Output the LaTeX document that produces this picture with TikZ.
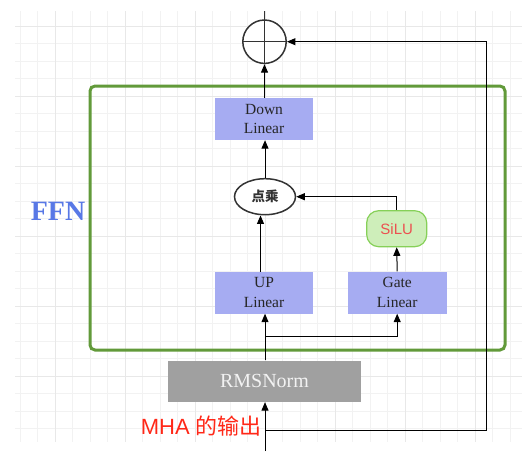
\documentclass[tikz,border=0pt]{standalone}
\usepackage{fontspec}
\setmainfont{Liberation Serif}
\newfontfamily\cjk{Noto Sans CJK SC}
\newfontfamily\arialf{Liberation Sans}
\usetikzlibrary{arrows.meta,calc,shapes.geometric}
\definecolor{lav}{RGB}{166,172,242}
\definecolor{ffngreen}{RGB}{98,154,58}
\definecolor{ffnblue}{RGB}{88,120,230}
\definecolor{silufill}{RGB}{206,238,186}
\definecolor{siluline}{RGB}{134,208,88}
\definecolor{silutext}{RGB}{236,80,80}
\definecolor{rmsgray}{RGB}{160,160,160}
\definecolor{mhared}{RGB}{255,40,24}
\definecolor{darkline}{RGB}{51,51,51}
\tikzset{
  linbox/.style={fill=lav, draw=none, minimum width=98pt, minimum height=42pt, inner sep=0pt, align=center, font=\fontsize{15.5}{19.5}\selectfont, text=black!85},
  arr/.style={draw=black, line width=1pt, -{Triangle[length=8.5pt,width=7pt]}},
  plainline/.style={draw=black, line width=1pt},
  minorgrid/.style={draw=black!5, line width=0.8pt},
  majorgrid/.style={draw=black!9, line width=0.8pt},
}
\begin{document}
\begin{tikzpicture}[x=1pt,y=-1pt]
\useasboundingbox (0,0) rectangle (522,451);
\fill[white] (0,0) rectangle (522,451);
% grid
\foreach \i in {0,...,28} {
  \draw[minorgrid] ({20+17.5*\i},11) -- ({20+17.5*\i},441.7);
}
\foreach \j in {0,...,23} {
  \draw[minorgrid] (15,{26+17.5*\j}) -- (522,{26+17.5*\j});
}
\foreach \i in {0,...,6} {
  \draw[majorgrid] ({55+70*\i},11) -- ({55+70*\i},441.7);
}
\foreach \j in {0,...,5} {
  \draw[majorgrid] (15,{26+70*\j}) -- (522,{26+70*\j});
}
% FFN frame
\draw[ffngreen, line width=3pt, rounded corners=5pt] (90,86) rectangle (505,350);
\node[font=\bfseries\fontsize{28}{30}\selectfont, text=ffnblue] (ffn) at (58,211) {FFN};
% nodes
\node[circle, draw=darkline, line width=1.5pt, fill=white, minimum size=43.4pt, inner sep=0pt] (sum) at (264.5,41.7) {};
\draw[darkline, line width=1.5pt] (sum.north) -- (sum.south) (sum.west) -- (sum.east);
\coordinate (out) at (264.5,11);
\draw[darkline, line width=1.5pt] (sum.north) -- (out);
\node[linbox] (down) at (264,119) {Down\\Linear};
\node[ellipse, draw=darkline, line width=1.5pt, fill=white, minimum width=61pt, minimum height=36pt, inner sep=0pt, font=\cjk\bfseries\fontsize{13.5}{15}\selectfont, text=darkline] (dot) at (265,196.7) {点乘};
\node[rounded corners=12pt, draw=siluline, line width=1.2pt, fill=silufill, minimum width=60pt, minimum height=36pt, inner sep=0pt, font=\arialf\fontsize{15}{16}\selectfont, text=silutext] (silu) at (396.7,228.7) {SiLU};
\node[linbox] (up) at (264,292.5) {UP\\Linear};
\node[linbox, minimum width=99pt] (gate) at (397.2,292.5) {Gate\\Linear};
\node[fill=rmsgray, minimum width=192.4pt, minimum height=41.3pt, inner sep=0pt, font=\fontsize{20}{22}\selectfont, text=white!95!black] (rms) at (264.5,381.3) {RMSNorm};
\node[anchor=east, inner sep=0pt, text=mhared, font=\fontsize{22}{24}\selectfont] (mha) at (262,426) {\arialf MHA \cjk 的输出};
% connectors
\coordinate (in) at (265,451);
\coordinate (res) at (265,430);
\coordinate (rescorner) at (486.7,430);
\coordinate (split) at (265,336);
\coordinate (upout) at (260.5,271.7);
\draw[arr] (in) -- (rms.south -| in);
\draw[plainline] (res) -- (rescorner);
\draw[arr] (rescorner) |- (sum.east);
\draw[arr] (rms.north -| split) -- (up.south -| split);
\draw[arr] (split) -| (gate.south);
\draw[arr] (gate.north) -- (silu.south);
\draw[arr] (silu.north) |- (dot.east);
\draw[arr] (upout) -- (upout |- dot.south);
\draw[arr] (dot.north) -- (down.south -| dot.north);
\draw[arr] (down.north -| out) -- (sum.south);
\end{tikzpicture}
\end{document}
